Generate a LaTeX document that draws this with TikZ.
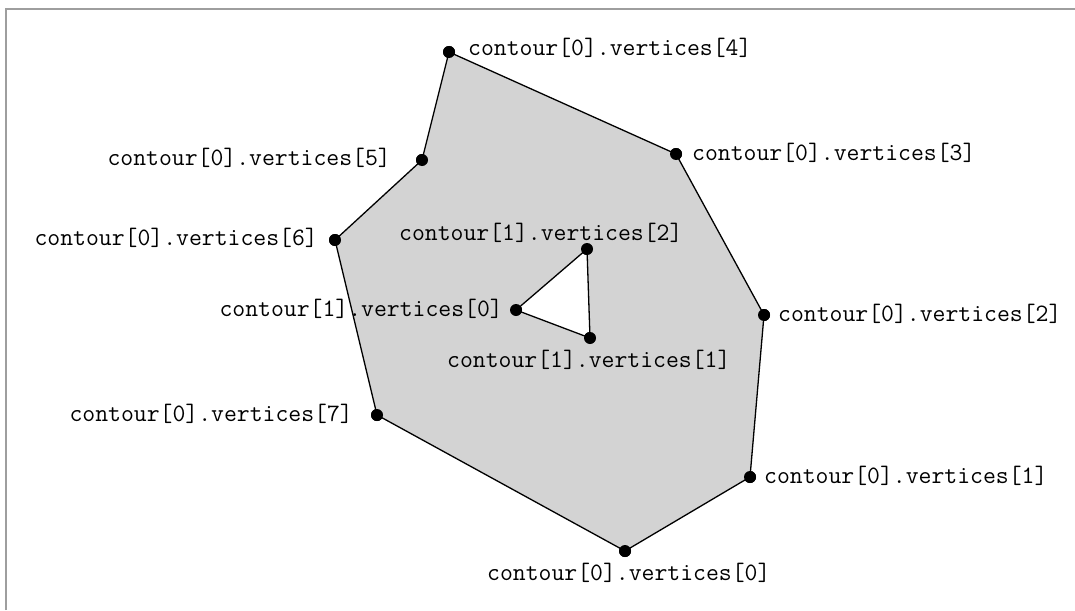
\documentclass[tikz,border=0pt]{standalone}
\usepackage{fontspec}
\begin{document}
\begin{tikzpicture}[x=1pt,y=-1pt,
  dot/.style={circle,fill=black,inner sep=0pt,minimum size=12pt},
  lbl/.style={font=\ttfamily\fontsize{25}{25}\selectfont,inner sep=0pt},
  edge/.style={draw=black,line width=1.3pt,line join=round}]
\useasboundingbox (0,0) rectangle (1075,610);
\draw[draw=black!38,line width=2pt] (6,610) -- (6,9) -- (1075,9);
% vertex nodes
\node[dot] (a0) at (625,551) {};
\node[dot] (a1) at (750,477) {};
\node[dot] (a2) at (764,315) {};
\node[dot] (a3) at (676,154) {};
\node[dot] (a4) at (449,52) {};
\node[dot] (a5) at (422,160) {};
\node[dot] (a6) at (335,240) {};
\node[dot] (a7) at (377,415) {};
\node[dot] (b0) at (516,310) {};
\node[dot] (b1) at (590,338) {};
\node[dot] (b2) at (587,249) {};
% polygon with hole
\path[fill={rgb,255:red,211;green,211;blue,211},even odd rule,edge]
  (a0.center) -- (a1.center) -- (a2.center) -- (a3.center) -- (a4.center)
  -- (a5.center) -- (a6.center) -- (a7.center) -- cycle
  (b0.center) -- (b1.center) -- (b2.center) -- cycle;
\foreach \n in {a0,a1,a2,a3,a4,a5,a6,a7,b0,b1,b2}{\fill (\n) circle (6pt);}
% labels
\node[lbl,anchor=west] (la4) at (468,48) {contour[0].vertices[4]};
\node[lbl,anchor=west] (la3) at (692,153) {contour[0].vertices[3]};
\node[lbl,anchor=east] (la5) at (391,158) {contour[0].vertices[5]};
\node[lbl,anchor=east] (la6) at (318,238) {contour[0].vertices[6]};
\node[lbl,anchor=west] (lb2) at (399,233) {contour[1].vertices[2]};
\node[lbl,anchor=east] (lb0) at (503,309) {contour[1].vertices[0]};
\node[lbl,anchor=west] (lb1) at (447,360) {contour[1].vertices[1]};
\node[lbl,anchor=west] (la2) at (778,314) {contour[0].vertices[2]};
\node[lbl,anchor=east] (la7) at (353,414) {contour[0].vertices[7]};
\node[lbl,anchor=west] (la1) at (764,476) {contour[0].vertices[1]};
\node[lbl,anchor=west] (la0) at (487,573) {contour[0].vertices[0]};
\end{tikzpicture}
\end{document}
